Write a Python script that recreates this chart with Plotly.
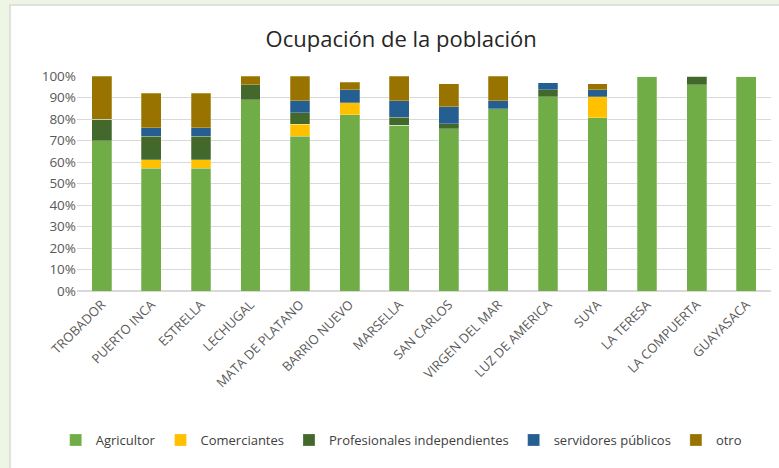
import plotly.graph_objects as go

# communities (x axis)
comunidades = ["TROBADOR", "PUERTO INCA", "ESTRELLA", "LECHUGAL", "MATA DE PLATANO",
               "BARRIO NUEVO", "MARSELLA", "SAN CARLOS", "VIRGEN DEL MAR",
               "LUZ DE AMERICA", "SUYA", "LA TERESA", "LA COMPUERTA", "GUAYASACA"]

# share of population per occupation (%)
agricultor = [70, 57, 57, 89, 72, 82, 77.2, 75.5, 84.8, 90.4, 80.6, 100, 96, 100]
comerciantes = [0, 4, 4, 0, 5.5, 5.5, 0, 0, 0, 0, 9.8, 0, 0, 0]
profesionales = [10, 11, 11, 7, 5.5, 0, 3.7, 2.3, 0, 3.1, 0, 0, 4, 0]
servidores = [0, 4, 4, 0, 5.5, 6, 7.5, 7.9, 3.6, 3.4, 3.1, 0, 0, 0]
otro = [20, 16, 16, 4, 11.5, 3.7, 11.6, 10.7, 11.6, 0, 2.9, 0, 0, 0]

series = [
    ("Agricultor", agricultor, "#70AD47"),
    ("Comerciantes", comerciantes, "#FFC000"),
    ("Profesionales independientes", profesionales, "#43682B"),
    ("servidores públicos", servidores, "#255E91"),
    ("otro", otro, "#997300"),
]

fig = go.Figure()
for name, vals, color in series:
    fig.add_trace(go.Bar(x=comunidades, y=vals, name=name,
                         marker=dict(color=color, line=dict(color="rgba(255,255,255,0.5)", width=0.5))))

# px -> paper helpers for the white chart card
L, R, T, B = 77, 771, 76, 291
def px_x(p):
    return (p - L) / (R - L)
def px_y(p):
    return (B - p) / (B - T)

fig.update_layout(
    barmode="stack",
    bargap=0.6,
    width=779, height=468,
    margin=dict(l=L, r=779 - R, t=T, b=468 - B, autoexpand=False),
    paper_bgcolor="#EDF5E4",
    plot_bgcolor="rgba(0,0,0,0)",
    font=dict(family="Open Sans, Liberation Sans, sans-serif", size=12, color="#595959"),
    title=dict(text="Ocupación de la población", x=0.515, xanchor="center",
               y=1 - 39 / 468, yanchor="middle",
               font=dict(size=22, color="#262626")),
    showlegend=True,
    legend=dict(orientation="h", xref="container", x=0.515, xanchor="center",
                yref="container", y=1 - 440 / 468, yanchor="middle",
                font=dict(size=13, color="#404040"), itemwidth=30,
                traceorder="normal", bgcolor="rgba(0,0,0,0)"),
    shapes=[dict(type="rect", xref="paper", yref="paper", layer="below",
                 x0=px_x(10), x1=px_x(820), y0=px_y(520), y1=px_y(5),
                 fillcolor="white", line=dict(color="#D9D9D9", width=1.5))],
)
fig.update_yaxes(range=[0, 100], dtick=10, ticksuffix="%", showgrid=True,
                 gridcolor="#D9D9D9", gridwidth=1, zeroline=True, zerolinecolor="#D9D9D9",
                 tickfont=dict(size=13.5, color="#595959"), ticks="", fixedrange=True,
                 automargin=False)
fig.update_xaxes(tickangle=-45, tickfont=dict(size=13, color="#595959"),
                 showline=True, linecolor="#D9D9D9", ticks="", automargin=False)

# drop the default page margin so the figure sits at the window corner
fig.write_html("out.html", config={"displayModeBar": False},
               post_script="document.body.style.margin='0';")
